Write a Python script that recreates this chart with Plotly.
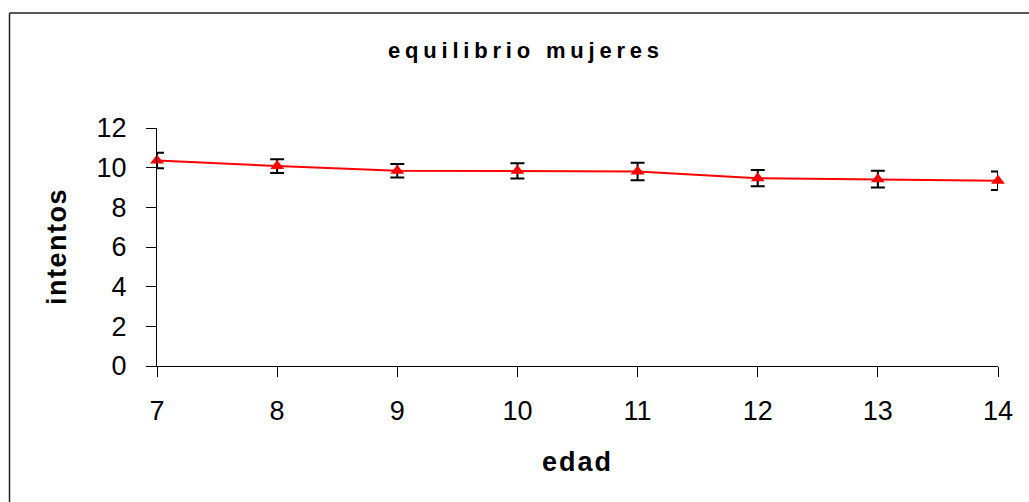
import plotly.graph_objects as go

edad = [7, 8, 9, 10, 11, 12, 13, 14]
intentos = [10.36, 10.08, 9.84, 9.84, 9.81, 9.47, 9.42, 9.34]
error = [0.39, 0.35, 0.34, 0.38, 0.44, 0.41, 0.42, 0.47]
y_ticks = [0, 2, 4, 6, 8, 10, 12]

FONT = "Liberation Sans, Arial, sans-serif"
W, H = 1029, 502
# screen-space plot box
SX0, SX1, SY0, SY1 = 157, 998, 128, 366
L, R, T, B = SX0, W - SX1, SY0, H - SY1
pw, ph = W - L - R, H - T - B

def px(x):
    return (x - L) / pw

def py(y):
    return (H - B - y) / ph

fig = go.Figure()
fig.add_trace(go.Scatter(
    x=edad, y=intentos, mode="lines+markers",
    line=dict(color="#FF0000", width=2),
    marker=dict(symbol="triangle-up", size=12, color="#FF0000"),
    error_y=dict(type="data", array=error, visible=True, color="black", thickness=2, width=7),
    showlegend=False, cliponaxis=False,
))

border = dict(color="#222222", width=1.5)
fig.update_layout(
    width=W, height=H,
    margin=dict(l=L, r=R, t=T, b=B),
    paper_bgcolor="white", plot_bgcolor="white",
    font=dict(family=FONT, color="black"),
    xaxis=dict(range=[7, 14], tickmode="array", tickvals=edad, ticktext=[str(v) for v in edad],
               showgrid=False, zeroline=False, showline=True, linecolor="black", linewidth=1,
               ticks="outside", ticklen=10, tickcolor="black", tickwidth=1, automargin=False,
               tickfont=dict(size=27, family=FONT), ticklabelstandoff=11),
    yaxis=dict(range=[0, 12], tickmode="array", tickvals=y_ticks,
               showgrid=False, zeroline=False, showline=True, linecolor="black", linewidth=1,
               ticks="outside", ticklen=10, tickcolor="black", tickwidth=1, automargin=False,
               tickfont=dict(size=27, family=FONT), ticklabelstandoff=14),
    shapes=[
        dict(type="line", xref="paper", yref="paper",
             x0=px(9.5), x1=px(1040), y0=py(13), y1=py(13), line=border, layer="below"),
        dict(type="line", xref="paper", yref="paper",
             x0=px(9.5), x1=px(9.5), y0=py(13), y1=py(520), line=border, layer="below"),
    ],
    annotations=[
        dict(text='<span style="letter-spacing:4.8px"><b>equilibrio mujeres</b></span>',
             x=px(526), y=py(50), xref="paper", yref="paper", showarrow=False,
             xanchor="center", yanchor="middle", font=dict(size=22, family=FONT)),
        dict(text='<span style="letter-spacing:2px"><b>edad</b></span>',
             x=px(577), y=py(462), xref="paper", yref="paper", showarrow=False,
             xanchor="center", yanchor="middle", font=dict(size=27, family=FONT)),
        dict(text='<span style="letter-spacing:1.5px"><b>intentos</b></span>',
             x=px(57), y=py(247), xref="paper", yref="paper", showarrow=False, textangle=-90,
             xanchor="center", yanchor="middle", font=dict(size=27, family=FONT)),
    ],
)

fig.write_html(
    "out.html",
    config={"displayModeBar": False},
    post_script=(
        "document.body.style.margin='0';"
        "document.body.style.overflow='hidden';"
        "document.documentElement.style.overflow='hidden';"
    ),
)
